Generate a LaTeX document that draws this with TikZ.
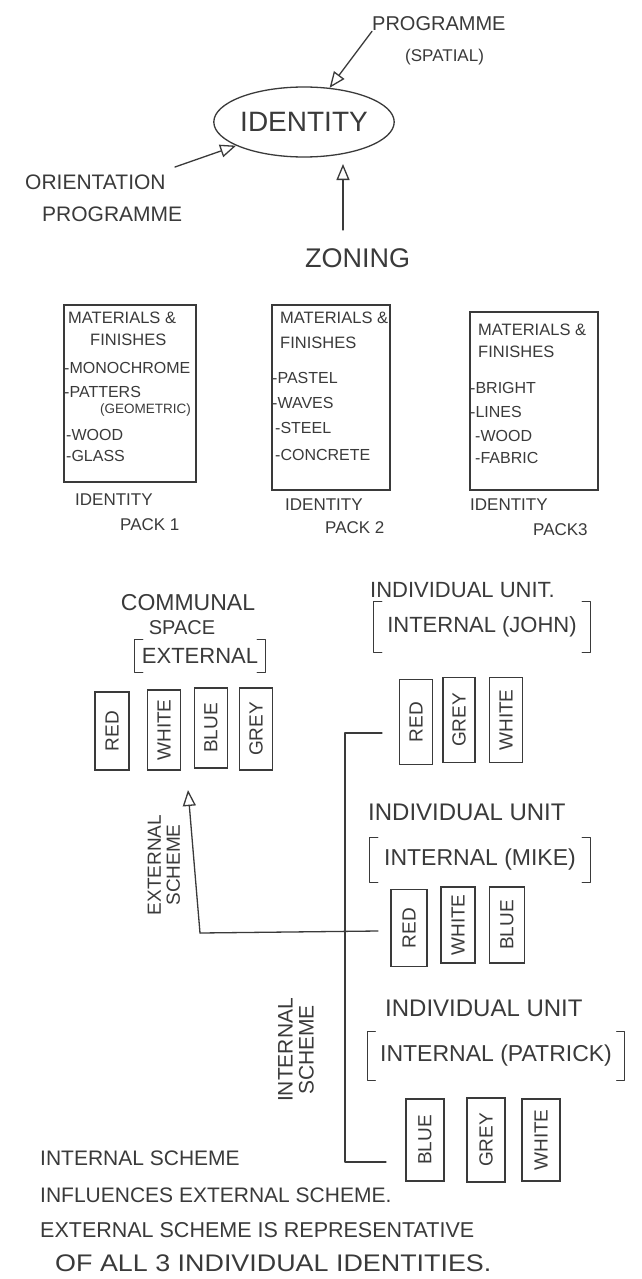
\documentclass[tikz,border=0pt]{standalone}
\usepackage{fontspec}
\setmainfont{Liberation Sans}
\usetikzlibrary{shapes.geometric,arrows.meta}
\definecolor{ink}{HTML}{3A3A3A}
\begin{document}
\begin{tikzpicture}[x=1pt,y=-1pt,
  every node/.style={text=ink,inner sep=0pt},
  lbl/.style={anchor=west},
  ln/.style={draw=ink,line width=1.3pt,line cap=round,line join=round},
  arr/.style={ln,-{Triangle[open,length=16pt,width=13pt,line width=1.3pt]}},
  packbox/.style={draw=ink,line width=1.3pt,rectangle},
  swatch/.style={draw=ink,line width=1.3pt,rotate=90,font=\fontsize{19}{19}\selectfont},
  fs/.style={font=\fontsize{#1}{#1}\selectfont}
]
\useasboundingbox (0,0) rectangle (642,1279);
\fill[white] (0,0) rectangle (642,1279);

% ---------- top: identity ----------
\node[ellipse,draw=ink,line width=1.3pt,minimum width=172pt,minimum height=70pt,fs=28] (identity) at (304,122) {IDENTITY};
\node[lbl,fs=20] (prog1) at (372,24) {PROGRAMME};
\node[lbl,fs=17] (prog2) at (405,57) {(SPATIAL)};
\node[lbl,fs=21] (orient1) at (25,182) {ORIENTATION};
\node[lbl,fs=21] (orient2) at (42,214) {PROGRAMME};
\node[lbl,fs=27] (zoning) at (305,258) {ZONING};
\coordinate (oa) at (175,167);
\coordinate (zs) at (343,230);
\coordinate (zt) at (343,164);
\draw[arr] (prog1.south west) -- (identity);
\draw[arr] (oa) -- (identity);
\draw[arr] (zs) -- (zt);

% ---------- identity packs ----------
\node[packbox,minimum width=132pt,minimum height=177pt] (box1) at (130,393.5) {};
\node[packbox,minimum width=118pt,minimum height=185pt] (box2) at (331,397.5) {};
\node[packbox,minimum width=128pt,minimum height=178pt] (box3) at (534,401) {};

\node[lbl,fs=16.5] (b1a) at (68,318) {MATERIALS \&};
\node[lbl,fs=16.5] (b1b) at (90,340) {FINISHES};
\node[lbl,fs=16] (b1c) at (64,368) {-MONOCHROME};
\node[lbl,fs=16] (b1d) at (64,392) {-PATTERS};
\node[lbl,fs=13.5] (b1e) at (100,410) {(GEOMETRIC)};
\node[lbl,fs=16] (b1f) at (66,435) {-WOOD};
\node[lbl,fs=16] (b1g) at (66,456) {-GLASS};

\node[lbl,fs=16.5] (b2a) at (280,318) {MATERIALS \&};
\node[lbl,fs=16.5] (b2b) at (280,343) {FINISHES};
\node[lbl,fs=16] (b2c) at (272,378) {-PASTEL};
\node[lbl,fs=16] (b2d) at (272,403) {-WAVES};
\node[lbl,fs=16] (b2e) at (275,428) {-STEEL};
\node[lbl,fs=16] (b2f) at (275,455) {-CONCRETE};

\node[lbl,fs=16.5] (b3a) at (478,330) {MATERIALS \&};
\node[lbl,fs=16.5] (b3b) at (478,352) {FINISHES};
\node[lbl,fs=16] (b3c) at (470,388) {-BRIGHT};
\node[lbl,fs=16] (b3d) at (470,412) {-LINES};
\node[lbl,fs=16] (b3e) at (475,436) {-WOOD};
\node[lbl,fs=16] (b3f) at (475,458) {-FABRIC};

\node[lbl,fs=17] (p1a) at (75,500) {IDENTITY};
\node[lbl,fs=17] (p1b) at (120,525) {PACK 1};
\node[lbl,fs=17] (p2a) at (285,505) {IDENTITY};
\node[lbl,fs=17] (p2b) at (325,528) {PACK 2};
\node[lbl,fs=17] (p3a) at (470,505) {IDENTITY};
\node[lbl,fs=17] (p3b) at (533,530) {PACK3};

% ---------- communal space ----------
\node[fs=23] (comm1) at (188,603) {COMMUNAL};
\node[fs=20] (comm2) at (182,628) {SPACE};
\node[fs=22,minimum width=130pt,minimum height=32pt] (commext) at (200,656) {EXTERNAL};
\node[swatch,minimum width=78pt,minimum height=34pt] (cred) at (112,731) {RED};
\node[swatch,minimum width=80pt,minimum height=33pt] (cwhite) at (164,730) {WHITE};
\node[swatch,minimum width=80pt,minimum height=33pt] (cblue) at (211,728) {BLUE};
\node[swatch,minimum width=82pt,minimum height=33pt] (cgrey) at (256,729) {GREY};

% ---------- John ----------
\node[lbl,fs=22] (j1) at (370,590) {INDIVIDUAL UNIT.};
\node[fs=22,minimum width=216pt,minimum height=50pt] (j2) at (482,627) {INTERNAL (JOHN)};
\node[swatch,minimum width=85pt,minimum height=33pt] (jred) at (416,722) {RED};
\node[swatch,minimum width=85pt,minimum height=32pt] (jgrey) at (459,720) {GREY};
\node[swatch,minimum width=85pt,minimum height=33pt] (jwhite) at (506,720) {WHITE};

% ---------- Mike ----------
\node[lbl,fs=24] (m1) at (368,812) {INDIVIDUAL UNIT};
\node[fs=23,minimum width=220pt,minimum height=44pt] (m2) at (480,860) {INTERNAL (MIKE)};
\node[swatch,minimum width=77pt,minimum height=36pt] (mred) at (409,928) {RED};
\node[swatch,minimum width=76pt,minimum height=34pt] (mwhite) at (458,925) {WHITE};
\node[swatch,minimum width=76pt,minimum height=35pt] (mblue) at (507,925) {BLUE};

% ---------- Patrick ----------
\node[lbl,fs=24] (pa1) at (385,1008) {INDIVIDUAL UNIT};
\node[fs=23,minimum width=257pt,minimum height=48pt] (pa2) at (496,1056) {INTERNAL (PATRICK)};
\node[swatch,minimum width=82pt,minimum height=38pt] (pblue) at (425,1140) {BLUE};
\node[swatch,minimum width=84pt,minimum height=38pt] (pgrey) at (486,1140) {GREY};
\node[swatch,minimum width=82pt,minimum height=38pt] (pwhite) at (541,1140) {WHITE};

% brackets
\foreach \n in {commext,j2,m2,pa2}{
  \draw[ln] ([xshift=8pt]\n.north west) -- (\n.north west) -- (\n.south west) -- ([xshift=8pt]\n.south west);
  \draw[ln] ([xshift=-8pt]\n.north east) -- (\n.north east) -- (\n.south east) -- ([xshift=-8pt]\n.south east);
}

% ---------- schemes ----------
\node[rotate=90,align=center,fs=19] (extlbl) at (164,865) {EXTERNAL\\SCHEME};
\node[rotate=90,align=center,fs=21] (intlbl) at (296,1050) {INTERNAL\\SCHEME};

\coordinate (jstub) at (382,733);
\coordinate (vtop) at (345,733);
\coordinate (vbot) at (345,1162);
\coordinate (pstub) at (386,1162);
\coordinate (mstub) at (378,931);
\coordinate (corner) at (200,933);
\coordinate (exttip) at (188,790);
\draw[ln] (jstub) -- (vtop) -- (vbot) -- (pstub);
\draw[ln] (mstub) -- (corner);
\draw[arr] (corner) -- (exttip);

% ---------- notes ----------
\node[lbl,fs=21] (n1) at (40,1158) {INTERNAL SCHEME};
\node[lbl,fs=21] (n2) at (40,1195) {INFLUENCES EXTERNAL SCHEME.};
\node[lbl,fs=21.5] (n3) at (40,1230) {EXTERNAL SCHEME IS REPRESENTATIVE};
\node[lbl,fs=24,xscale=1.12] (n4) at (55,1263) {OF ALL 3 INDIVIDUAL IDENTITIES.};
\end{tikzpicture}
\end{document}
